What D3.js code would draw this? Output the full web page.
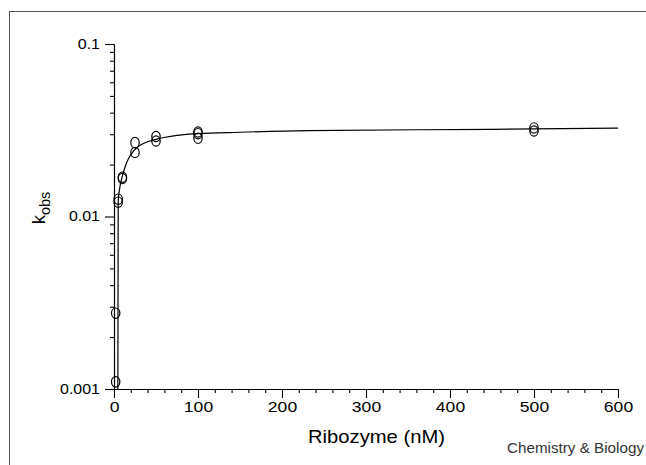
<!DOCTYPE html>
<html>
<head>
<meta charset="utf-8">
<script src="https://cdn.jsdelivr.net/npm/d3@7"></script>
<style>
  body { margin: 0; background: #fff; }
  svg { display: block; font-family: "Liberation Sans", Arial, sans-serif; }
</style>
</head>
<body>
<div id="vis-container"></div>
<script>
const width = 646,
      height = 465,
      margin = { top: 44, bottom: 76, left: 114, right: 28 };

// observed rate constants (nM ribozyme vs kobs)
var pointX = [2, 2, 5, 5, 10, 10, 25, 25, 50, 50, 100, 100, 100, 500, 500];
var pointY = [0.0011, 0.00275, 0.0126, 0.0121, 0.0169, 0.0166, 0.0268, 0.0235, 0.0291, 0.0274, 0.0309, 0.0302, 0.0284, 0.0326, 0.0313];

// fitted curve
var curveX = [4.6, 5, 7, 10, 15, 20, 25, 35, 50, 75, 100, 150, 230, 450, 600];
var curveY = [0.001, 0.0122, 0.0148, 0.0172, 0.0205, 0.0228, 0.0245, 0.0265, 0.028, 0.0295, 0.0302, 0.0308, 0.0315, 0.032, 0.0325];

var xMajor = [0, 100, 200, 300, 400, 500, 600];
var yMajor = [0.001, 0.01, 0.1];
var yLabels = ["0.001", "0.01", "0.1"];

const fontStack = "Liberation Sans, Arial, sans-serif";
const stretch = 1.14; // the original type is wider than Arial

var svg = d3.select("#vis-container").append("svg")
    .attr("width", width)
    .attr("height", height);

// widen a text element horizontally
function widen(sel, factor) {
    sel.each(function() {
        var w = this.getComputedTextLength();
        d3.select(this).attr("textLength", w * factor).attr("lengthAdjust", "spacingAndGlyphs");
    });
}

// frame around the figure
svg.append("rect")
    .attr("x", 9.5).attr("y", 11.5)
    .attr("width", 700).attr("height", 500)
    .attr("fill", "none")
    .attr("stroke", "#555")
    .attr("stroke-width", 1);

var x = d3.scaleLinear().domain([0, 600]).range([margin.left, width - margin.right]);
var y = d3.scaleLog().domain([0.001, 0.1]).range([height - margin.bottom, margin.top]);

// minor ticks
var xMinor = d3.range(0, 601, 20).filter(function(d) { return d % 100 != 0; });
var yMinor = [];
[0.001, 0.01].forEach(function(base) {
    for (var i = 2; i <= 9; i++) yMinor.push(base * i);
});

svg.append("g")
    .attr("transform", `translate(0 ${height - margin.bottom})`)
    .call(d3.axisBottom(x).tickValues(xMinor).tickSize(4).tickFormat("").tickSizeOuter(0));
var xMajorG = svg.append("g")
    .attr("transform", `translate(0 ${height - margin.bottom})`)
    .call(d3.axisBottom(x).tickValues(xMajor).tickSize(9).tickSizeOuter(0).tickPadding(3));
xMajorG.selectAll("text")
    .attr("font-size", 15.4)
    .attr("font-family", fontStack)
    .attr("fill", "#000")
    .call(widen, stretch);

svg.append("g")
    .attr("transform", `translate(${margin.left} 0)`)
    .call(d3.axisLeft(y).tickValues(yMinor).tickSize(4).tickFormat("").tickSizeOuter(0));
var yMajorG = svg.append("g")
    .attr("transform", `translate(${margin.left} 0)`)
    .call(d3.axisLeft(y).tickValues(yMajor).tickSize(9).tickSizeOuter(0).tickPadding(5)
        .tickFormat(function(d, i) { return yLabels[i]; }));
yMajorG.selectAll("text")
    .attr("font-size", 14)
    .attr("font-family", fontStack)
    .attr("fill", "#000")
    .call(widen, stretch);

svg.selectAll(".domain, .tick line").attr("stroke", "#000").attr("stroke-width", 1.1);

// fit line
var curve = curveX.map(function(d, i) { return [d, curveY[i]]; });
svg.append("path")
    .datum(curve)
    .attr("fill", "none")
    .attr("stroke", "#000")
    .attr("stroke-width", 1.2)
    .attr("d", d3.line()
        .x(function(d) { return x(d[0]); })
        .y(function(d) { return y(d[1]); })
        .curve(d3.curveMonotoneX));

// data points (open circles)
var points = pointX.map(function(d, i) { return { x: d, y: pointY[i] }; });
svg.selectAll("ellipse")
    .data(points)
    .enter()
    .append("ellipse")
    .attr("cx", function(d) { return x(d.x); })
    .attr("cy", function(d) { return y(d.y); })
    .attr("rx", 4.2)
    .attr("ry", 5.2)
    .attr("fill", "none")
    .attr("stroke", "#000")
    .attr("stroke-width", 1.2);

// axis titles
svg.append("text")
    .attr("x", 376.5)
    .attr("y", 443)
    .attr("text-anchor", "middle")
    .attr("font-size", 18.6)
    .attr("textLength", 137)
    .attr("lengthAdjust", "spacingAndGlyphs")
    .text("Ribozyme (nM)");

var yTitle = svg.append("text")
    .attr("transform", "translate(45 208) rotate(-90)")
    .attr("text-anchor", "middle")
    .attr("font-size", 18.6);
yTitle.append("tspan").text("k");
yTitle.append("tspan").attr("font-size", 14.5).attr("dy", 5).text("obs");

svg.append("text")
    .attr("x", 644)
    .attr("y", 452.5)
    .attr("text-anchor", "end")
    .attr("font-size", 14)
    .attr("fill", "#333")
    .attr("textLength", 137)
    .attr("lengthAdjust", "spacingAndGlyphs")
    .text("Chemistry & Biology");
</script>
</body>
</html>
